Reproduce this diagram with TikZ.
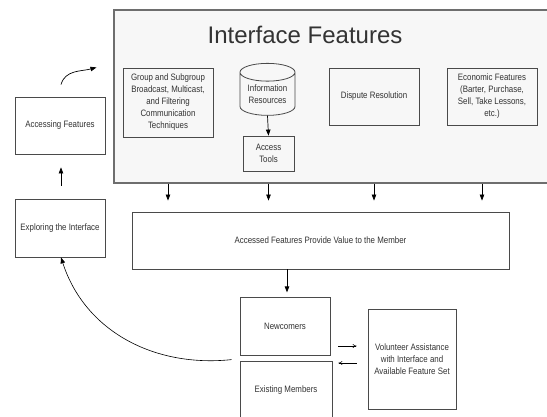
\documentclass[tikz,border=0pt]{standalone}
\usepackage{fontspec}
\setmainfont[FakeStretch=0.85]{Liberation Sans}
\newfontfamily\titlefont{Liberation Sans}
\usetikzlibrary{arrows.meta,shapes.geometric}
\definecolor{linec}{HTML}{4A4A4A}
\definecolor{txtc}{HTML}{333333}
\definecolor{bgc}{HTML}{F7F7F7}
\begin{document}
\begin{tikzpicture}[x=1pt,y=-1pt,
  every node/.style={text=txtc,font=\fontsize{9.3}{12}\selectfont,align=center,inner sep=0pt},
  bx/.style={draw=linec,line width=0.8pt,fill=white,rectangle},
  arr/.style={draw=black,line width=0.7pt,-{Triangle[length=6pt,width=4.5pt]}},
  thinarr/.style={draw=black,line width=0.5pt,-{To[length=4pt,width=4pt]}}]
\useasboundingbox (0,0) rectangle (547,416);
% big frame
\node[draw=linec!80,line width=1.1pt,fill=bgc,minimum width=436,minimum height=173] (big) at (332,96.5) {};
\node[font=\titlefont\fontsize{24}{28}\selectfont] (title) at (305,35) {Interface Features};
\node[bx,fill=bgc,minimum width=90,minimum height=69] (grp) at (168,102.5) {Group and Subgroup\\Broadcast, Multicast,\\and Filtering\\Communication\\Techniques};
\node[draw=linec,line width=0.8pt,fill=bgc,cylinder,shape border rotate=90,aspect=0.45,minimum width=55,minimum height=52] (info) at (267.5,94) {Information\\Resources};
\node[bx,fill=bgc,minimum width=51,minimum height=35] (tools) at (268.5,153.5) {Access\\Tools};
\node[bx,fill=bgc,minimum width=90,minimum height=57] (disp) at (374,96.5) {Dispute Resolution};
\node[bx,fill=bgc,minimum width=90,minimum height=57] (eco) at (492,96.5) {Economic Features\\(Barter, Purchase,\\Sell, Take Lessons,\\etc.)};
% lower boxes
\node[bx,minimum width=377,minimum height=57] (acc) at (320.5,240.5) {Accessed Features Provide Value to the Member};
\node[bx,minimum width=90,minimum height=58] (new) at (285,326) {Newcomers};
\node[bx,minimum width=92,minimum height=58] (exist) at (286,390) {Existing Members};
\node[bx,minimum width=88,minimum height=100] (vol) at (412,359) {Volunteer Assistance\\with Interface and\\Available Feature Set};
\node[bx,minimum width=90,minimum height=57] (accf) at (60,125.5) {Accessing Features};
\node[bx,minimum width=90,minimum height=58] (expl) at (60,228) {Exploring the Interface};
% arrows
\draw[arr] (info.south) -- (tools.north);
\draw[arr] (grp.south |- big.south) -- ++(0,17);
\draw[arr] (tools.south |- big.south) -- ++(0,17);
\draw[arr] (disp.south |- big.south) -- ++(0,17);
\draw[arr] ([xshift=-10pt]eco.south |- big.south) -- ++(0,17);
\draw[arr] ([xshift=2pt]new.north |- acc.south) -- ++(0,23);
\draw[arr] ([xshift=1pt,yshift=13pt]expl.north) -- ([xshift=1pt,yshift=-13pt]accf.south);
\draw[arr] ([xshift=1pt,yshift=12pt]accf.north) to[out=75,in=195] ([xshift=-17pt,yshift=-58pt]big.north west);
\draw[line width=0.6pt,-{Triangle[length=6pt,width=4.5pt]}] ([xshift=-8pt,yshift=1pt]exist.north west) to[out=186,in=-72] ([xshift=1pt]expl.south);
\coordinate (a1) at ([xshift=8pt]new.east |- 0,346);
\coordinate (a2) at ([xshift=-11pt]vol.west |- 0,346);
\coordinate (b1) at ([xshift=-11pt]vol.west |- 0,363);
\coordinate (b2) at ([xshift=6pt]exist.east |- 0,363);
\draw[thinarr] (a1) -- (a2);
\draw[thinarr] (b1) -- (b2);
\end{tikzpicture}
\end{document}
